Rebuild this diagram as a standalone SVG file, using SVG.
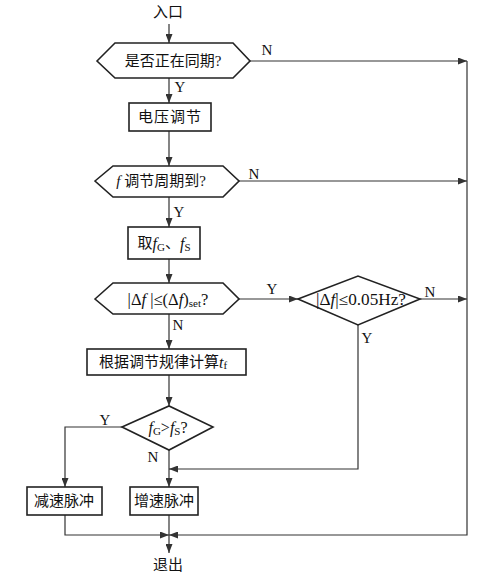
<svg xmlns="http://www.w3.org/2000/svg" width="486" height="578" viewBox="0 0 486 578">
<style>
.shape{fill:#fff;stroke:#222;stroke-width:1.6}
.line{fill:none;stroke:#333;stroke-width:1.2}
.t{font-family:"Liberation Serif","Noto Sans CJK SC",serif;font-size:15px;fill:#111;text-anchor:middle;dominant-baseline:central}
.lbl{font-family:"Liberation Serif",serif;font-size:15px;fill:#111;text-anchor:middle;dominant-baseline:central}
.i{font-style:italic}
.sub{font-size:11px}
</style>
<defs>
<marker id="arr" markerUnits="userSpaceOnUse" markerWidth="9" markerHeight="7" refX="9" refY="3.5" orient="auto">
<path d="M0,0 L9,3.5 L0,7 z" fill="#333"/>
</marker>
</defs>
<rect width="486" height="578" fill="#fff"/>
<g id="connectors">
<line class="line" x1="169" y1="24" x2="169" y2="43" marker-end="url(#arr)"/>
<line class="line" x1="169" y1="78" x2="169" y2="103" marker-end="url(#arr)"/>
<line class="line" x1="169" y1="131" x2="169" y2="166" marker-end="url(#arr)"/>
<line class="line" x1="169" y1="197" x2="169" y2="227" marker-end="url(#arr)"/>
<line class="line" x1="169" y1="259" x2="169" y2="283" marker-end="url(#arr)"/>
<line class="line" x1="169" y1="314" x2="169" y2="349" marker-end="url(#arr)"/>
<line class="line" x1="169" y1="375" x2="169" y2="406" marker-end="url(#arr)"/>
<polyline class="line" points="122,427 65,427 65,487" marker-end="url(#arr)"/>
<line class="line" x1="169" y1="450" x2="169" y2="487" marker-end="url(#arr)"/>
<polyline class="line" points="358,325 358,469 169,469" marker-end="url(#arr)"/>
<line class="line" x1="239" y1="299" x2="298" y2="299" marker-end="url(#arr)"/>
<line class="line" x1="420" y1="299" x2="467" y2="299" marker-end="url(#arr)"/>
<line class="line" x1="250" y1="61" x2="467" y2="61" marker-end="url(#arr)"/>
<line class="line" x1="239" y1="181" x2="467" y2="181" marker-end="url(#arr)"/>
<polyline class="line" points="467,61 467,535 169,535" marker-end="url(#arr)"/>
<polyline class="line" points="65,515 65,535 169,535" marker-end="url(#arr)"/>
<line class="line" x1="169" y1="515" x2="169" y2="553" marker-end="url(#arr)"/>
<text class="lbl" x="267" y="50">N</text>
<text class="lbl" x="180" y="87">Y</text>
<text class="lbl" x="254" y="174">N</text>
<text class="lbl" x="179" y="212">Y</text>
<text class="lbl" x="272" y="289">Y</text>
<text class="lbl" x="178" y="325">N</text>
<text class="lbl" x="430" y="292">N</text>
<text class="lbl" x="367" y="338">Y</text>
<text class="lbl" x="105" y="420">Y</text>
<text class="lbl" x="153" y="457">N</text>
</g>
<g id="entry"><text class="t" x="168" y="12">入口</text></g>
<g id="hex1">
<polygon class="shape" points="97,61 115,43 233,43 250,61 233,78 115,78"/>
<text class="t" x="173" y="61">是否正在同期?</text>
</g>
<g id="box1">
<rect class="shape" x="129" y="103" width="82" height="28"/>
<text class="t" x="170" y="117" letter-spacing="1">电压调节</text>
</g>
<g id="hex2">
<polygon class="shape" points="95,181 113,166 223,166 239,181 223,197 113,197"/>
<text class="t" x="161" y="181"><tspan class="i">f</tspan> 调节周期到?</text>
</g>
<g id="box2">
<rect class="shape" x="128" y="227" width="72" height="32"/>
<text class="t" x="164" y="243">取<tspan class="i" style="font-size:16px">f</tspan><tspan class="sub" dy="4">G</tspan><tspan dy="-4">、</tspan><tspan class="i" style="font-size:16px">f</tspan><tspan class="sub" dy="4">S</tspan></text>
</g>
<g id="hex3">
<polygon class="shape" points="95,299 113,283 223,283 239,299 223,314 113,314"/>
<text class="t" x="168" y="299" style="font-size:16.5px">|Δ<tspan class="i">f</tspan> |≤(Δ<tspan class="i">f</tspan>)<tspan class="sub" dy="4">set</tspan><tspan dy="-4">?</tspan></text>
</g>
<g id="diamond2">
<polygon class="shape" points="298,299 358,276 420,299 358,325"/>
<text class="t" x="361" y="299" style="font-size:16px" textLength="90" lengthAdjust="spacingAndGlyphs">|Δ<tspan class="i">f</tspan>|≤0.05Hz?</text>
</g>
<g id="box3">
<rect class="shape" x="87" y="349" width="159" height="26"/>
<text class="t" x="163" y="362">根据调节规律计算<tspan class="i" style="font-size:16px">t</tspan><tspan class="sub" dy="3">f</tspan></text>
</g>
<g id="diamond3">
<polygon class="shape" points="122,427 169,406 213,427 169,450"/>
<text class="t" x="168" y="427" style="font-size:16px"><tspan class="i">f</tspan><tspan class="sub" dy="4">G</tspan><tspan dy="-4">&gt;</tspan><tspan class="i">f</tspan><tspan class="sub" dy="4">S</tspan><tspan dy="-4">?</tspan></text>
</g>
<g id="box4">
<rect class="shape" x="27" y="487" width="75" height="28"/>
<text class="t" x="64" y="501">减速脉冲</text>
</g>
<g id="box5">
<rect class="shape" x="130" y="487" width="68" height="28"/>
<text class="t" x="164" y="501">增速脉冲</text>
</g>
<g id="exit"><text class="t" x="168" y="565">退出</text></g>
</svg>
